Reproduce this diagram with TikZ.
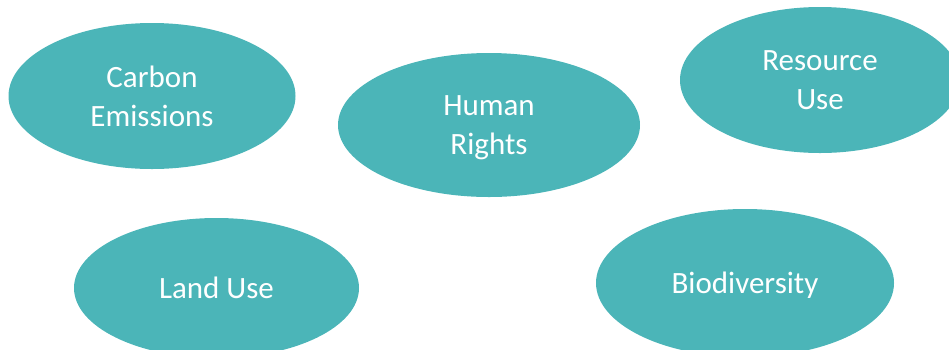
\documentclass[tikz,border=0pt]{standalone}
\usepackage{fontspec}
\setmainfont{Carlito}
\usetikzlibrary{shapes.geometric}
\definecolor{topicteal}{RGB}{75,181,184}

\begin{document}
\begin{tikzpicture}[x=1pt, y=-1pt,
  topic/.style={ellipse, fill=topicteal, draw=none, inner sep=0pt,
    text=white, align=center, text depth=0pt, font=\fontsize{31}{39}\selectfont}]

% frame
\useasboundingbox (0, 0) rectangle (949, 349);
\clip (0, 0) rectangle (949, 349);

% top row
\node[topic, minimum width=287pt, minimum height=146pt] (carbon) at (152, 96) {Carbon\\Emissions};
\node[topic, minimum width=302pt, minimum height=144pt] (human) at (489, 125) {Human\\Rights};
\node[topic, minimum width=280pt, minimum height=146pt] (resource) at (820, 80) {Resource\\Use};

% bottom row
\node[topic, minimum width=285pt, minimum height=140pt] (land) at (216.5, 288) {Land Use};
\node[topic, minimum width=298pt, minimum height=148pt] (bio) at (745, 283) {Biodiversity};

\end{tikzpicture}
\end{document}
